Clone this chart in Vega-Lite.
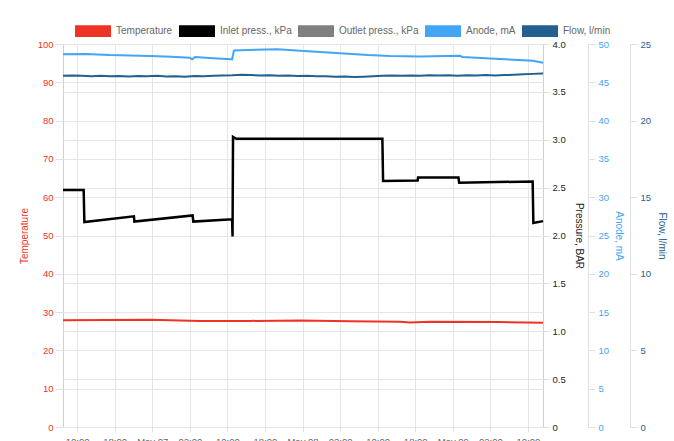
{
  "$schema": "https://vega.github.io/schema/vega-lite/v6.json",
  "width": 480,
  "height": 383,
  "autosize": {"type": "none"},
  "padding": {"left": 63, "top": 44, "right": 131, "bottom": 14},
  "background": "white",
  "data": {
    "values": [
      {"t": "2021-05-06T07:00:00Z", "s": "Temperature", "v": 27.9},
      {"t": "2021-05-07T01:30:00Z", "s": "Temperature", "v": 28.0},
      {"t": "2021-05-07T12:12:00Z", "s": "Temperature", "v": 27.65},
      {"t": "2021-05-07T22:48:00Z", "s": "Temperature", "v": 27.7},
      {"t": "2021-05-08T09:30:00Z", "s": "Temperature", "v": 27.8},
      {"t": "2021-05-08T20:06:00Z", "s": "Temperature", "v": 27.6},
      {"t": "2021-05-09T06:45:00Z", "s": "Temperature", "v": 27.45},
      {"t": "2021-05-09T08:54:00Z", "s": "Temperature", "v": 27.3},
      {"t": "2021-05-09T13:06:00Z", "s": "Temperature", "v": 27.5},
      {"t": "2021-05-10T04:00:00Z", "s": "Temperature", "v": 27.4},
      {"t": "2021-05-10T13:12:00Z", "s": "Temperature", "v": 27.25},

      {"t": "2021-05-06T07:00:00Z", "s": "Inlet press., kPa", "v": 2.475},
      {"t": "2021-05-06T11:24:00Z", "s": "Inlet press., kPa", "v": 2.475},
      {"t": "2021-05-06T11:33:00Z", "s": "Inlet press., kPa", "v": 2.14},
      {"t": "2021-05-06T22:06:00Z", "s": "Inlet press., kPa", "v": 2.2},
      {"t": "2021-05-06T22:12:00Z", "s": "Inlet press., kPa", "v": 2.145},
      {"t": "2021-05-07T10:36:00Z", "s": "Inlet press., kPa", "v": 2.21},
      {"t": "2021-05-07T10:45:00Z", "s": "Inlet press., kPa", "v": 2.145},
      {"t": "2021-05-07T19:00:00Z", "s": "Inlet press., kPa", "v": 2.17},
      {"t": "2021-05-07T19:06:00Z", "s": "Inlet press., kPa", "v": 1.99},
      {"t": "2021-05-07T19:12:00Z", "s": "Inlet press., kPa", "v": 3.03},
      {"t": "2021-05-07T19:54:00Z", "s": "Inlet press., kPa", "v": 3.01},
      {"t": "2021-05-09T03:00:00Z", "s": "Inlet press., kPa", "v": 3.01},
      {"t": "2021-05-09T03:09:00Z", "s": "Inlet press., kPa", "v": 2.57},
      {"t": "2021-05-09T10:30:00Z", "s": "Inlet press., kPa", "v": 2.575},
      {"t": "2021-05-09T10:36:00Z", "s": "Inlet press., kPa", "v": 2.605},
      {"t": "2021-05-09T19:12:00Z", "s": "Inlet press., kPa", "v": 2.605},
      {"t": "2021-05-09T19:21:00Z", "s": "Inlet press., kPa", "v": 2.55},
      {"t": "2021-05-10T11:00:00Z", "s": "Inlet press., kPa", "v": 2.565},
      {"t": "2021-05-10T11:09:00Z", "s": "Inlet press., kPa", "v": 2.13},
      {"t": "2021-05-10T13:12:00Z", "s": "Inlet press., kPa", "v": 2.15},

      {"t": "2021-05-06T07:00:00Z", "s": "Anode, mA", "v": 48.66},
      {"t": "2021-05-06T11:42:00Z", "s": "Anode, mA", "v": 48.7},
      {"t": "2021-05-06T17:00:00Z", "s": "Anode, mA", "v": 48.55},
      {"t": "2021-05-07T01:30:00Z", "s": "Anode, mA", "v": 48.43},
      {"t": "2021-05-07T06:00:00Z", "s": "Anode, mA", "v": 48.33},
      {"t": "2021-05-07T10:00:00Z", "s": "Anode, mA", "v": 48.2},
      {"t": "2021-05-07T10:30:00Z", "s": "Anode, mA", "v": 48.0},
      {"t": "2021-05-07T11:06:00Z", "s": "Anode, mA", "v": 48.3},
      {"t": "2021-05-07T15:00:00Z", "s": "Anode, mA", "v": 48.15},
      {"t": "2021-05-07T18:48:00Z", "s": "Anode, mA", "v": 48.0},
      {"t": "2021-05-07T19:00:00Z", "s": "Anode, mA", "v": 47.98},
      {"t": "2021-05-07T19:24:00Z", "s": "Anode, mA", "v": 49.15},
      {"t": "2021-05-08T00:00:00Z", "s": "Anode, mA", "v": 49.25},
      {"t": "2021-05-08T04:36:00Z", "s": "Anode, mA", "v": 49.3},
      {"t": "2021-05-08T09:30:00Z", "s": "Anode, mA", "v": 49.12},
      {"t": "2021-05-08T18:00:00Z", "s": "Anode, mA", "v": 48.8},
      {"t": "2021-05-09T00:00:00Z", "s": "Anode, mA", "v": 48.55},
      {"t": "2021-05-09T04:36:00Z", "s": "Anode, mA", "v": 48.43},
      {"t": "2021-05-09T11:00:00Z", "s": "Anode, mA", "v": 48.37},
      {"t": "2021-05-09T19:30:00Z", "s": "Anode, mA", "v": 48.45},
      {"t": "2021-05-09T20:00:00Z", "s": "Anode, mA", "v": 48.3},
      {"t": "2021-05-10T04:00:00Z", "s": "Anode, mA", "v": 48.04},
      {"t": "2021-05-10T11:00:00Z", "s": "Anode, mA", "v": 47.8},
      {"t": "2021-05-10T13:12:00Z", "s": "Anode, mA", "v": 47.56},

      {"t": "2021-05-06T07:00:00Z", "s": "Flow, l/min", "v": 22.92},
      {"t": "2021-05-06T09:00:00Z", "s": "Flow, l/min", "v": 22.95},
      {"t": "2021-05-06T11:00:00Z", "s": "Flow, l/min", "v": 22.93},
      {"t": "2021-05-06T13:00:00Z", "s": "Flow, l/min", "v": 22.9},
      {"t": "2021-05-06T15:00:00Z", "s": "Flow, l/min", "v": 22.93},
      {"t": "2021-05-06T17:00:00Z", "s": "Flow, l/min", "v": 22.89},
      {"t": "2021-05-06T19:00:00Z", "s": "Flow, l/min", "v": 22.91},
      {"t": "2021-05-06T21:00:00Z", "s": "Flow, l/min", "v": 22.88},
      {"t": "2021-05-06T23:00:00Z", "s": "Flow, l/min", "v": 22.91},
      {"t": "2021-05-07T01:00:00Z", "s": "Flow, l/min", "v": 22.89},
      {"t": "2021-05-07T03:00:00Z", "s": "Flow, l/min", "v": 22.92},
      {"t": "2021-05-07T05:00:00Z", "s": "Flow, l/min", "v": 22.88},
      {"t": "2021-05-07T07:00:00Z", "s": "Flow, l/min", "v": 22.9},
      {"t": "2021-05-07T09:00:00Z", "s": "Flow, l/min", "v": 22.87},
      {"t": "2021-05-07T11:00:00Z", "s": "Flow, l/min", "v": 22.91},
      {"t": "2021-05-07T13:00:00Z", "s": "Flow, l/min", "v": 22.89},
      {"t": "2021-05-07T15:00:00Z", "s": "Flow, l/min", "v": 22.92},
      {"t": "2021-05-07T17:00:00Z", "s": "Flow, l/min", "v": 22.94},
      {"t": "2021-05-07T19:00:00Z", "s": "Flow, l/min", "v": 22.96},
      {"t": "2021-05-07T21:00:00Z", "s": "Flow, l/min", "v": 23.0},
      {"t": "2021-05-07T23:00:00Z", "s": "Flow, l/min", "v": 22.97},
      {"t": "2021-05-08T01:00:00Z", "s": "Flow, l/min", "v": 22.94},
      {"t": "2021-05-08T03:00:00Z", "s": "Flow, l/min", "v": 22.96},
      {"t": "2021-05-08T05:00:00Z", "s": "Flow, l/min", "v": 22.92},
      {"t": "2021-05-08T07:00:00Z", "s": "Flow, l/min", "v": 22.94},
      {"t": "2021-05-08T09:00:00Z", "s": "Flow, l/min", "v": 22.91},
      {"t": "2021-05-08T11:00:00Z", "s": "Flow, l/min", "v": 22.93},
      {"t": "2021-05-08T13:00:00Z", "s": "Flow, l/min", "v": 22.89},
      {"t": "2021-05-08T15:00:00Z", "s": "Flow, l/min", "v": 22.9},
      {"t": "2021-05-08T17:00:00Z", "s": "Flow, l/min", "v": 22.87},
      {"t": "2021-05-08T19:00:00Z", "s": "Flow, l/min", "v": 22.88},
      {"t": "2021-05-08T21:00:00Z", "s": "Flow, l/min", "v": 22.85},
      {"t": "2021-05-08T23:00:00Z", "s": "Flow, l/min", "v": 22.87},
      {"t": "2021-05-09T01:00:00Z", "s": "Flow, l/min", "v": 22.89},
      {"t": "2021-05-09T03:00:00Z", "s": "Flow, l/min", "v": 22.92},
      {"t": "2021-05-09T05:00:00Z", "s": "Flow, l/min", "v": 22.94},
      {"t": "2021-05-09T07:00:00Z", "s": "Flow, l/min", "v": 22.92},
      {"t": "2021-05-09T09:00:00Z", "s": "Flow, l/min", "v": 22.95},
      {"t": "2021-05-09T11:00:00Z", "s": "Flow, l/min", "v": 22.93},
      {"t": "2021-05-09T13:00:00Z", "s": "Flow, l/min", "v": 22.96},
      {"t": "2021-05-09T15:00:00Z", "s": "Flow, l/min", "v": 22.94},
      {"t": "2021-05-09T17:00:00Z", "s": "Flow, l/min", "v": 22.96},
      {"t": "2021-05-09T19:00:00Z", "s": "Flow, l/min", "v": 22.93},
      {"t": "2021-05-09T21:00:00Z", "s": "Flow, l/min", "v": 22.96},
      {"t": "2021-05-09T23:00:00Z", "s": "Flow, l/min", "v": 22.94},
      {"t": "2021-05-10T01:00:00Z", "s": "Flow, l/min", "v": 22.97},
      {"t": "2021-05-10T03:00:00Z", "s": "Flow, l/min", "v": 22.95},
      {"t": "2021-05-10T05:00:00Z", "s": "Flow, l/min", "v": 22.97},
      {"t": "2021-05-10T07:00:00Z", "s": "Flow, l/min", "v": 22.99},
      {"t": "2021-05-10T09:00:00Z", "s": "Flow, l/min", "v": 23.02},
      {"t": "2021-05-10T11:00:00Z", "s": "Flow, l/min", "v": 23.05},
      {"t": "2021-05-10T13:00:00Z", "s": "Flow, l/min", "v": 23.08},
      {"t": "2021-05-10T13:12:00Z", "s": "Flow, l/min", "v": 23.06}
    ]
  },
  "encoding": {
    "x": {
      "field": "t",
      "type": "temporal",
      "scale": {"type": "utc"},
      "axis": {
        "title": null,
        "grid": true,
        "domain": false,
        "tickSize": 5,
        "labelPadding": 4,
        "labelAngle": 0,
        "labelFlush": false,
        "labelOverlap": false,
        "labelColor": "#666666",
        "values": [
          {"year": 2021, "month": 5, "date": 6, "hours": 10, "utc": true},
          {"year": 2021, "month": 5, "date": 6, "hours": 18, "utc": true},
          {"year": 2021, "month": 5, "date": 7, "hours": 2, "utc": true},
          {"year": 2021, "month": 5, "date": 7, "hours": 10, "utc": true},
          {"year": 2021, "month": 5, "date": 7, "hours": 18, "utc": true},
          {"year": 2021, "month": 5, "date": 8, "hours": 2, "utc": true},
          {"year": 2021, "month": 5, "date": 8, "hours": 10, "utc": true},
          {"year": 2021, "month": 5, "date": 8, "hours": 18, "utc": true},
          {"year": 2021, "month": 5, "date": 9, "hours": 2, "utc": true},
          {"year": 2021, "month": 5, "date": 9, "hours": 10, "utc": true},
          {"year": 2021, "month": 5, "date": 9, "hours": 18, "utc": true},
          {"year": 2021, "month": 5, "date": 10, "hours": 2, "utc": true},
          {"year": 2021, "month": 5, "date": 10, "hours": 10, "utc": true}
        ],
        "labelExpr": "['10:00','18:00','May 07','02:00','10:00','18:00','May 08','02:00','10:00','18:00','May 09','02:00','10:00'][round((time(datum.value) - utc(2021,4,6,10,0,0,0)) / 28800000)]"
      }
    },
    "color": {
      "field": "s",
      "type": "nominal",
      "scale": {
        "domain": ["Temperature", "Inlet press., kPa", "Outlet press., kPa", "Anode, mA", "Flow, l/min"],
        "range": ["#ee3325", "#000000", "#808080", "#42a5f5", "#23608f"]
      },
      "legend": {
        "title": null,
        "orient": "none",
        "direction": "horizontal",
        "legendX": 12,
        "legendY": -31,
        "symbolType": "M-1,-0.32H1V0.32H-1Z",
        "symbolSize": 1296,
        "symbolStrokeWidth": 0,
        "labelOffset": 5,
        "columnPadding": 6,
        "labelFontSize": 10,
        "labelColor": "#666666",
        "labelFont": "Liberation Sans",
        "encode": {
          "symbols": {
            "update": {
              "fill": {"scale": "color", "field": "value"},
              "stroke": {"value": "transparent"},
              "opacity": {"value": 1}
            }
          }
        }
      }
    }
  },
  "layer": [
    {
      "transform": [{"filter": "datum.s === 'Temperature'"}],
      "mark": {"type": "line", "strokeWidth": 2},
      "encoding": {
        "y": {
          "field": "v",
          "type": "quantitative",
          "scale": {"domain": [0, 100], "nice": false, "zero": false},
          "axis": {
            "orient": "left",
            "title": "Temperature",
            "titleColor": "#ee3325",
            "labelColor": "#ee3325",
            "values": [0, 10, 20, 30, 40, 50, 60, 70, 80, 90, 100],
            "grid": true,
            "domain": false,
            "tickSize": 8,
            "labelPadding": 2,
            "titlePadding": 8
          }
        }
      }
    },
    {
      "transform": [{"filter": "datum.s === 'Inlet press., kPa'"}],
      "mark": {"type": "line", "strokeWidth": 2.5},
      "encoding": {
        "y": {
          "field": "v",
          "type": "quantitative",
          "scale": {"domain": [0, 4], "nice": false, "zero": false},
          "axis": {
            "orient": "right",
            "title": "Pressure, BAR",
            "titleColor": "#222222",
            "titleAngle": 90,
            "labelColor": "#222222",
            "values": [0, 0.5, 1, 1.5, 2, 2.5, 3, 3.5, 4],
            "labelExpr": "datum.value == 0 ? '0' : format(datum.value, '.1f')",
            "grid": true,
            "domain": false,
            "tickSize": 6,
            "labelPadding": 3,
            "titlePadding": 8
          }
        }
      }
    },
    {
      "transform": [{"filter": "datum.s === 'Anode, mA'"}],
      "mark": {"type": "line", "strokeWidth": 2},
      "encoding": {
        "y": {
          "field": "v",
          "type": "quantitative",
          "scale": {"domain": [0, 50], "nice": false, "zero": false},
          "axis": {
            "orient": "right",
            "offset": 45,
            "title": "Anode, mA",
            "titleColor": "#42a5f5",
            "titleAngle": 90,
            "labelColor": "#42a5f5",
            "values": [0, 5, 10, 15, 20, 25, 30, 35, 40, 45, 50],
            "grid": false,
            "domain": true,
            "tickSize": 7,
            "labelPadding": 3,
            "titlePadding": 5
          }
        }
      }
    },
    {
      "transform": [{"filter": "datum.s === 'Flow, l/min'"}],
      "mark": {"type": "line", "strokeWidth": 2},
      "encoding": {
        "y": {
          "field": "v",
          "type": "quantitative",
          "scale": {"domain": [0, 25], "nice": false, "zero": false},
          "axis": {
            "orient": "right",
            "offset": 87,
            "title": "Flow, l/min",
            "titleColor": "#23608f",
            "titleAngle": 90,
            "labelColor": "#23608f",
            "values": [0, 5, 10, 15, 20, 25],
            "grid": false,
            "domain": true,
            "tickSize": 7,
            "labelPadding": 3,
            "titlePadding": 6
          }
        }
      }
    }
  ],
  "resolve": {"scale": {"y": "independent"}},
  "config": {
    "font": "Liberation Sans",
    "view": {"stroke": "#d0d0d0", "fill": "white"},
    "axis": {
      "labelFont": "Liberation Sans",
      "titleFont": "Liberation Sans",
      "labelFontSize": 9.5,
      "titleFontSize": 10,
      "titleFontWeight": "normal",
      "gridColor": "#e6e6e6",
      "tickColor": "#e0e0e0",
      "domainColor": "#e0e0e0"
    }
  }
}
